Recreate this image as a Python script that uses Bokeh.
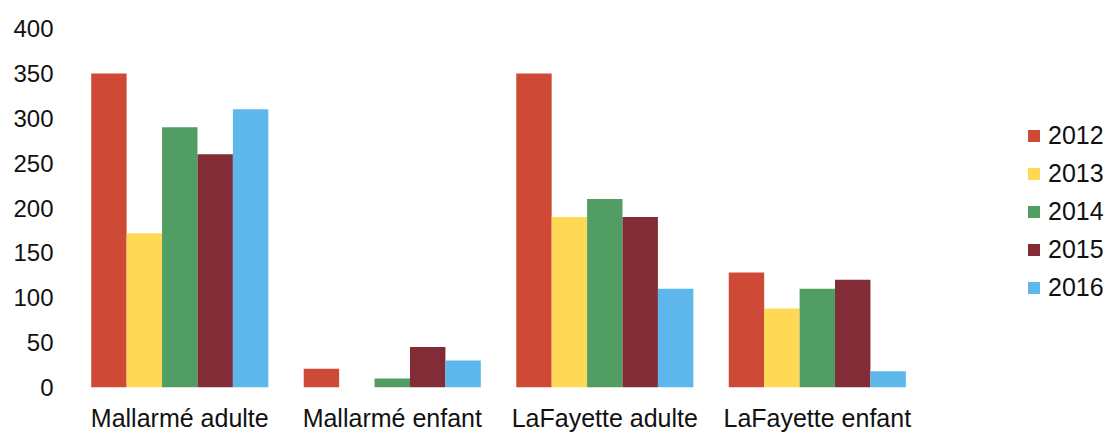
from bokeh.plotting import figure
from bokeh.models import ColumnDataSource, Range1d, Legend, LegendItem, FixedTicker
from bokeh.embed import file_html
from bokeh.resources import INLINE

categories = ["Mallarmé adulte", "Mallarmé enfant", "LaFayette adulte", "LaFayette enfant"]
years = ["2012", "2013", "2014", "2015", "2016"]
v2012 = [350, 21, 350, 128]
v2013 = [172, 0, 190, 88]
v2014 = [290, 10, 210, 110]
v2015 = [260, 45, 190, 120]
v2016 = [310, 30, 110, 18]
colors = ["#cf4a36", "#ffd956", "#529d64", "#822c37", "#5db7ea"]
y_ticks = [0, 50, 100, 150, 200, 250, 300, 350, 400]

values = {"2012": v2012, "2013": v2013, "2014": v2014, "2015": v2015, "2016": v2016}
centers = [i + 0.5 for i in range(len(categories))]
bw = 1 / 6

# frame spans to the right edge so the legend can sit inside it
p = figure(x_range=Range1d(0, 4.889), y_range=Range1d(0, 400),
           width=1112, height=434, output_backend="svg", toolbar_location=None,
           min_border_left=73, min_border_right=0, min_border_top=28, min_border_bottom=46)
p.outline_line_color = None
p.xgrid.grid_line_color = None
p.ygrid.grid_line_color = None

items = []
for i, y in enumerate(years):
    src = ColumnDataSource(dict(x=[c + (i - 2) * bw for c in centers], top=values[y]))
    r = p.vbar(x="x", top="top", width=bw, source=src, fill_color=colors[i], line_color=None)
    items.append(LegendItem(label=y, renderers=[r]))

for ax in (p.xaxis[0], p.yaxis[0]):
    ax.axis_line_color = None
    ax.major_tick_line_color = None
    ax.minor_tick_line_color = None
    ax.major_tick_out = 0
    ax.major_tick_in = 0
    ax.major_label_text_font = "Liberation Sans"
    ax.major_label_text_color = "#111111"

p.yaxis.ticker = FixedTicker(ticks=y_ticks)
p.yaxis.major_label_text_font_size = "24px"
p.yaxis.major_label_standoff = 20
p.xaxis.ticker = FixedTicker(ticks=centers)
p.xaxis.major_label_overrides = {c: name for c, name in zip(centers, categories)}
p.xaxis.major_label_text_font_size = "25px"
p.xaxis.major_label_standoff = 16

legend = Legend(items=items, location=(953, 85), orientation="vertical",
                glyph_width=15, glyph_height=15, label_height=30, spacing=8,
                label_standoff=7, padding=0, margin=0,
                label_text_font="Liberation Sans", label_text_font_size="25px",
                label_text_color="#111111", border_line_color=None,
                background_fill_alpha=0)
p.add_layout(legend, "center")

open("out.html", "w").write(file_html(p, INLINE))
